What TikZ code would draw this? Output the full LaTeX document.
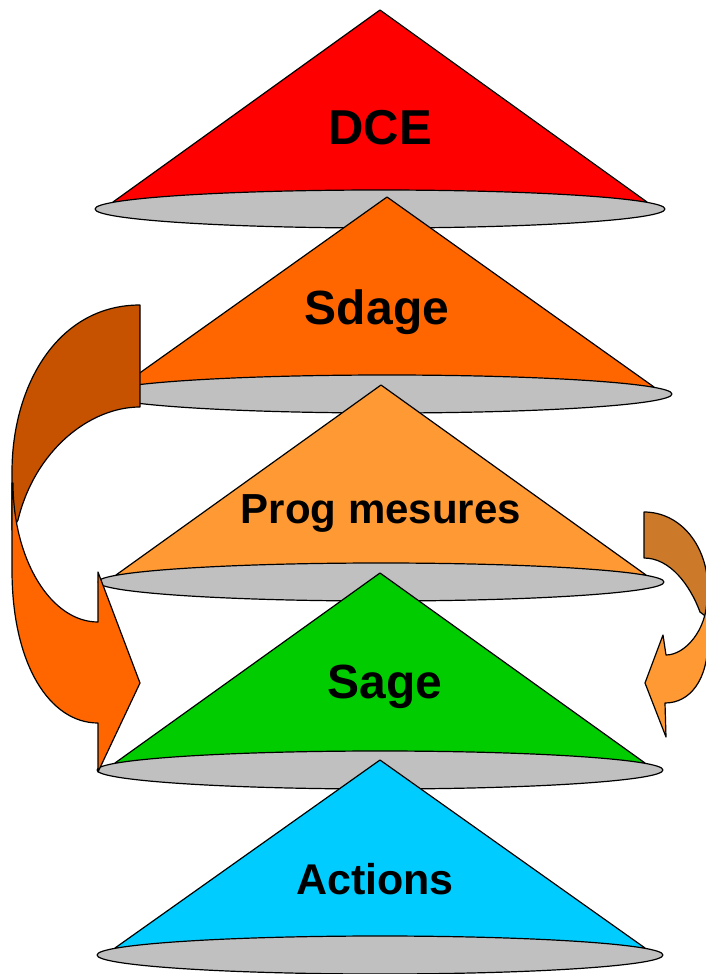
\documentclass[tikz,border=0pt]{standalone}
\usepackage{fontspec}
\setmainfont{Liberation Sans}
\usetikzlibrary{positioning}

\definecolor{dceRed}{HTML}{FF0000}
\definecolor{sdageOrange}{HTML}{FF6600}
\definecolor{progOrange}{HTML}{FF9933}
\definecolor{sageGreen}{HTML}{00CC00}
\definecolor{actionsBlue}{HTML}{00CCFF}
\definecolor{baseGrey}{HTML}{C0C0C0}
\definecolor{leftBack}{HTML}{C65200}
\definecolor{rightBack}{HTML}{CC7A29}

\begin{document}
\begin{tikzpicture}
		[x=1pt,y=-1pt,line width=1.2pt,line join=round,
		conebody/.style={draw=black,fill=#1},
		conebase/.style={draw=black,fill=baseGrey},
		lbl/.style={font=\bfseries\fontsize{#1}{#1}\selectfont,anchor=base,inner sep=0pt}]
		\useasboundingbox (0,0) rectangle (706,974);
		
		% cones, top to bottom
		\foreach \nm/\ax/\ay/\cy/\rx/\col/\fs/\lx/\by/\txt in
		{dce/380/10/209/285/dceRed/49/380/144/DCE,
			sdage/387/197/394/285/sdageOrange/48/377/324/Sdage,
			prog/381/385/582/283/progOrange/42/381/523/Prog mesures,
			sage/380/573/770/283/sageGreen/48/385/698/Sage,
			actions/380/760/955/283/actionsBlue/43/375/894/Actions}
		{
			\draw[conebody=\col] (\ax,\ay) -- (\ax-\rx+18,\cy-7) -- (\ax+\rx-18,\cy-7) -- cycle;
			\draw[conebase] (\ax,\cy) ellipse [x radius=\rx pt, y radius=19pt];
			\node[lbl=\fs] (\nm) at (\lx,\by) {\txt};
		}
		
		% left curved arrow
		\draw[fill=leftBack] (140,305) .. controls (58,305) and (12,385) .. (12,472)
		-- (12,530) -- (18,520) .. controls (35,450) and (90,407) .. (140,407) -- cycle;
		\draw[fill=sdageOrange] (12,483) -- (12,570) .. controls (12,665) and (50,723) .. (98,723)
		-- (98,772) -- (140,683) -- (98,572) -- (98,622)
		.. controls (51,622) and (13,560) .. (13,483) -- cycle;
		
		% right curved arrow
		\draw[fill=rightBack] (644,512) .. controls (680,512) and (708,545) .. (708,590)
		-- (708,618) -- (700,612) .. controls (690,585) and (670,558) .. (644,558) -- cycle;
		\draw[fill=progOrange] (708,598) -- (708,640) .. controls (708,680) and (690,703) .. (665,703)
		-- (666,737) -- (645,683) -- (663,635) -- (666,655)
		.. controls (685,655) and (707,630) .. (707,598) -- cycle;
\end{tikzpicture}
\end{document}
